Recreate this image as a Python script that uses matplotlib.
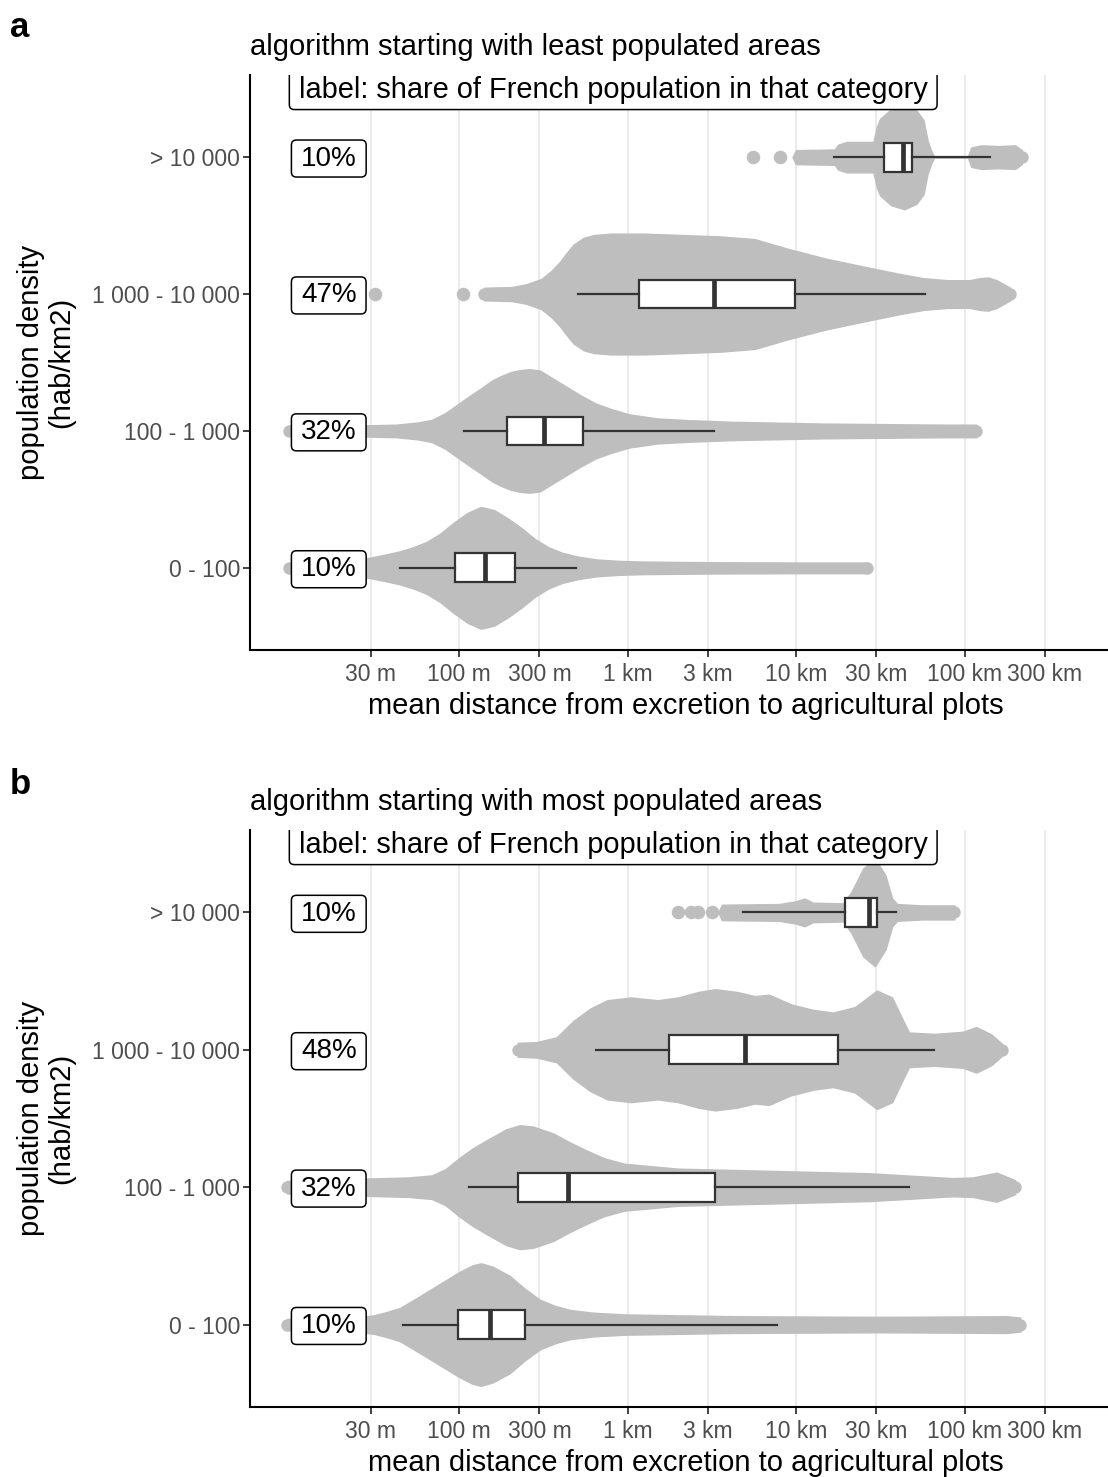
"""Distance from excretion to agricultural plots, by population density.

Two stacked panels (two allocation algorithms): gray beeswarm-like
density shapes, a box plot per density class and the population share.
"""

import numpy as np
import matplotlib

matplotlib.use("Agg")
import matplotlib.pyplot as plt
from matplotlib.patches import FancyBboxPatch
from matplotlib.transforms import IdentityTransform

plt.rcParams["font.family"] = ["Liberation Sans", "DejaVu Sans"]

# ---- data -----------------------------------------------------------------
# density classes, bottom to top
density_labels = ["0 - 100", "100 - 1 000", "1 000 - 10 000", "> 10 000"]

tick_values = [30, 100, 300, 1e3, 3e3, 1e4, 3e4, 1e5, 3e5]
tick_labels = ["30 m", "100 m", "300 m", "1 km", "3 km", "10 km", "30 km",
               "100 km", "300 km"]

titles = ["algorithm starting with least populated areas",
          "algorithm starting with most populated areas"]
panel_letters = ["a", "b"]
header_label = "label: share of French population in that category"

share_a = ["10%", "32%", "47%", "10%"]
share_b = ["10%", "32%", "48%", "10%"]

# box stats, log10(distance in m): whisker low, q1, median, q3, whisker high
box_a = [
    [1.649, 1.979, 2.154, 2.335, 2.697],
    [2.027, 2.287, 2.505, 2.734, 3.516],
    [2.708, 3.068, 3.512, 3.992, 4.764],
    [4.226, 4.524, 4.635, 4.688, 5.150],
]
box_b = [
    [1.666, 1.994, 2.185, 2.390, 3.885],
    [2.062, 2.350, 2.648, 3.520, 4.669],
    [2.815, 3.244, 3.696, 4.251, 4.819],
    [3.685, 4.290, 4.435, 4.480, 4.596],
]

# shape outlines: log10(distance in m) and
# half-thickness of the point cloud (in category units)
a_low_logd = [0.99, 1.20, 1.47, 1.56, 1.65, 1.73, 1.81, 1.89, 1.97, 2.05,
              2.13, 2.21, 2.29, 2.37, 2.45, 2.53, 2.61, 2.71, 2.82, 2.95,
              3.09, 3.50, 4.00, 4.42]
a_low_half = [0.036, 0.04, 0.073, 0.095, 0.12, 0.15, 0.19, 0.25, 0.33, 0.40,
              0.444, 0.42, 0.36, 0.29, 0.21, 0.15, 0.11, 0.08, 0.06, 0.05,
              0.045, 0.04, 0.038, 0.038]

a_mid_logd = [0.99, 1.30, 1.63, 1.75, 1.84, 1.92, 2.00, 2.07, 2.13, 2.20,
              2.25, 2.31, 2.37, 2.42, 2.48, 2.56, 2.64, 2.72, 2.81, 2.90,
              3.01, 3.18, 3.36, 3.62, 4.15, 4.87, 5.07]
a_mid_half = [0.036, 0.036, 0.045, 0.06, 0.08, 0.13, 0.20, 0.26, 0.31, 0.37,
              0.40, 0.43, 0.445, 0.45, 0.44, 0.38, 0.32, 0.26, 0.20, 0.16,
              0.12, 0.09, 0.078, 0.066, 0.053, 0.045, 0.045]

a_dense_logd = [2.15, 2.31, 2.40, 2.49, 2.55, 2.60, 2.64, 2.68, 2.74, 2.80,
                2.90, 3.10, 3.33, 3.55, 3.755, 3.95, 4.18, 4.40, 4.61, 4.755,
                4.90, 5.03, 5.09, 5.14, 5.19, 5.22, 5.27]
a_dense_half = [0.045, 0.05, 0.07, 0.11, 0.17, 0.235, 0.30, 0.36, 0.41, 0.43,
                0.44, 0.44, 0.43, 0.42, 0.40, 0.33, 0.257, 0.20, 0.147, 0.115,
                0.10, 0.10, 0.115, 0.12, 0.10, 0.08, 0.045]

a_urban_logd = [3.98, 4.00, 4.23, 4.25, 4.30, 4.46, 4.48, 4.50, 4.565, 4.643,
                4.714, 4.756, 4.78, 4.80, 4.82, 5.02, 5.04, 5.10, 5.20, 5.30,
                5.34]
a_urban_half = [0.0, 0.05, 0.055, 0.09, 0.11, 0.11, 0.22, 0.28, 0.35, 0.38,
                0.34, 0.27, 0.12, 0.05, 0.0, 0.0, 0.07, 0.085, 0.08, 0.085,
                0.05]

b_low_logd = [0.98, 1.30, 1.49, 1.57, 1.65, 1.76, 1.88, 2.00, 2.08, 2.13,
              2.20, 2.30, 2.39, 2.48, 2.57, 2.66, 2.80, 2.98, 3.63, 4.50,
              5.25, 5.33]
b_low_half = [0.04, 0.045, 0.065, 0.09, 0.12, 0.20, 0.29, 0.38, 0.43, 0.445,
              0.42, 0.354, 0.26, 0.18, 0.135, 0.105, 0.085, 0.073, 0.06,
              0.055, 0.06, 0.05]

b_mid_logd = [0.98, 1.40, 1.70, 1.84, 1.92, 2.00, 2.08, 2.17, 2.28, 2.36,
              2.44, 2.56, 2.65, 2.75, 2.86, 2.98, 3.30, 3.95, 4.44, 4.93,
              5.05, 5.19, 5.30]
b_mid_half = [0.045, 0.06, 0.07, 0.085, 0.13, 0.21, 0.28, 0.345, 0.42, 0.45,
              0.44, 0.39, 0.33, 0.27, 0.21, 0.17, 0.134, 0.115, 0.10, 0.065,
              0.07, 0.105, 0.05]

b_dense_logd = [2.35, 2.46, 2.58, 2.68, 2.78, 2.88, 3.02, 3.18, 3.30, 3.42,
                3.52, 3.65, 3.755, 3.84, 3.97, 4.10, 4.22, 4.35, 4.48, 4.57,
                4.62, 4.67, 4.82, 4.99, 5.07, 5.16, 5.22]
b_dense_half = [0.05, 0.055, 0.09, 0.21, 0.30, 0.36, 0.38, 0.36, 0.38, 0.42,
                0.44, 0.42, 0.39, 0.40, 0.33, 0.29, 0.27, 0.31, 0.43, 0.38,
                0.25, 0.125, 0.115, 0.13, 0.165, 0.11, 0.045]

b_urban_logd = [3.54, 3.56, 3.90, 4.00, 4.05, 4.10, 4.28, 4.33, 4.40, 4.468,
                4.53, 4.57, 4.60, 4.75, 4.94]
b_urban_half = [0.0, 0.055, 0.06, 0.08, 0.10, 0.07, 0.065, 0.15, 0.32, 0.39,
                0.27, 0.10, 0.06, 0.05, 0.05]

# isolated points (log10 m), bottom to top
dots_a = [[], [], [1.504, 2.024], [3.744, 3.905]]
dots_b = [[], [], [], [3.30, 3.375, 3.42, 3.50]]

# ---- style ------------------------------------------------------------------
GRAY = "#BEBEBE"
DARK = "#333333"
TICK_TEXT = "#4D4D4D"
GRID = "#EBEBEB"
W, H = 1108, 1477


def draw_panel(ax, shapes, dots, boxes, shares, title):
    ax.set_xscale("log")
    ax.set_xlim(5.75, 8.6e5)
    ax.set_ylim(0.4, 4.6)

    for i, (logd, half) in enumerate(shapes):
        y = i + 1
        d = 10 ** np.asarray(logd)
        h = np.asarray(half)
        ax.fill_between(d, y - h, y + h, facecolor=GRAY, edgecolor=GRAY,
                        lw=1.2, joinstyle="round", zorder=2)
        ends = [k for k in (0, -1) if h[k] > 0]
        ax.scatter(d[ends], [y] * len(ends), s=80, color=GRAY, lw=0, zorder=2)
        if dots[i]:
            ax.scatter(10 ** np.asarray(dots[i]), [y] * len(dots[i]), s=95,
                       color=GRAY, lw=0, zorder=2)

    stats = [dict(whislo=10 ** b[0], q1=10 ** b[1], med=10 ** b[2],
                  q3=10 ** b[3], whishi=10 ** b[4]) for b in boxes]
    ax.bxp(stats, positions=[1, 2, 3, 4], widths=0.21,
           orientation="horizontal", patch_artist=True, showfliers=False,
           showcaps=False, manage_ticks=False, zorder=3,
           boxprops=dict(facecolor="white", edgecolor=DARK, linewidth=1.6),
           whiskerprops=dict(color=DARK, linewidth=1.6),
           medianprops=dict(color=DARK, linewidth=3.4,
                            solid_capstyle="butt"))

    ax.set_xticks(tick_values)
    ax.set_xticklabels(tick_labels)
    ax.minorticks_off()
    ax.set_yticks([1, 2, 3, 4])
    ax.set_yticklabels(density_labels)
    ax.tick_params(axis="both", length=5, width=1.3, color=DARK,
                   labelcolor=TICK_TEXT, labelsize=16.5)
    ax.tick_params(axis="x", pad=4.5)
    ax.tick_params(axis="y", pad=2)
    ax.grid(axis="x", color=GRID, lw=1.5, zorder=0)
    ax.set_axisbelow(True)
    for side in ("top", "right"):
        ax.spines[side].set_visible(False)
    for side in ("left", "bottom"):
        ax.spines[side].set_linewidth(1.5)
        ax.spines[side].set_color("black")

    ax.set_title(title, loc="left", fontsize=21, pad=14.5)
    ax.set_xlabel("mean distance from excretion to agricultural plots",
                  fontsize=21, labelpad=4)
    ax.text(-0.234, 0.5, "population density\n(hab/km2)", rotation=90,
            ha="center", va="center", fontsize=21, linespacing=1.1,
            transform=ax.transAxes)

    labels = []
    for i, s in enumerate(shares):
        t = ax.annotate(s, xy=(10, i + 1), xytext=(7.5, -1),
                        textcoords="offset points", ha="left", va="center",
                        fontsize=20, zorder=6, annotation_clip=False)
        labels.append(t)
    t = ax.annotate(header_label, xy=(10, 4.49), xytext=(6, 0),
                    textcoords="offset points", ha="left", va="center",
                    fontsize=20.9, zorder=6, annotation_clip=False)
    labels.append(t)
    return labels


fig = plt.figure(figsize=(W / 100, H / 100), dpi=100)
ax_a = fig.add_axes([250 / W, 1 - 650 / H, (1122 - 250) / W, (650 - 75) / H])
ax_b = fig.add_axes([250 / W, 1 - 1407 / H, (1122 - 250) / W, (1407 - 830) / H])

shapes_a = [(a_low_logd, a_low_half), (a_mid_logd, a_mid_half),
            (a_dense_logd, a_dense_half), (a_urban_logd, a_urban_half)]
shapes_b = [(b_low_logd, b_low_half), (b_mid_logd, b_mid_half),
            (b_dense_logd, b_dense_half), (b_urban_logd, b_urban_half)]

all_labels = []
all_labels += [(ax_a, t) for t in draw_panel(ax_a, shapes_a, dots_a, box_a,
                                             share_a, titles[0])]
all_labels += [(ax_b, t) for t in draw_panel(ax_b, shapes_b, dots_b, box_b,
                                             share_b, titles[1])]

fig.text(10 / W, 1 - 37 / H, panel_letters[0], fontsize=25,
         fontweight="bold", va="baseline", ha="left")
fig.text(10 / W, 1 - 794 / H, panel_letters[1], fontsize=25,
         fontweight="bold", va="baseline", ha="left")

# rounded label frames, sized from the rendered text
fig.canvas.draw()
renderer = fig.canvas.get_renderer()
for ax, t in all_labels:
    bb = t.get_window_extent(renderer)
    padx, pady = 9.5, 5.5
    frame = FancyBboxPatch((bb.x0 - padx, bb.y0 - pady), bb.width + 2 * padx,
                           bb.height + 2 * pady,
                           boxstyle="round,pad=0,rounding_size=5",
                           transform=IdentityTransform(), facecolor="white",
                           edgecolor="black", linewidth=1.1, zorder=5)
    ax.add_patch(frame)

fig.savefig("out.png", dpi=100)
plt.close(fig)
